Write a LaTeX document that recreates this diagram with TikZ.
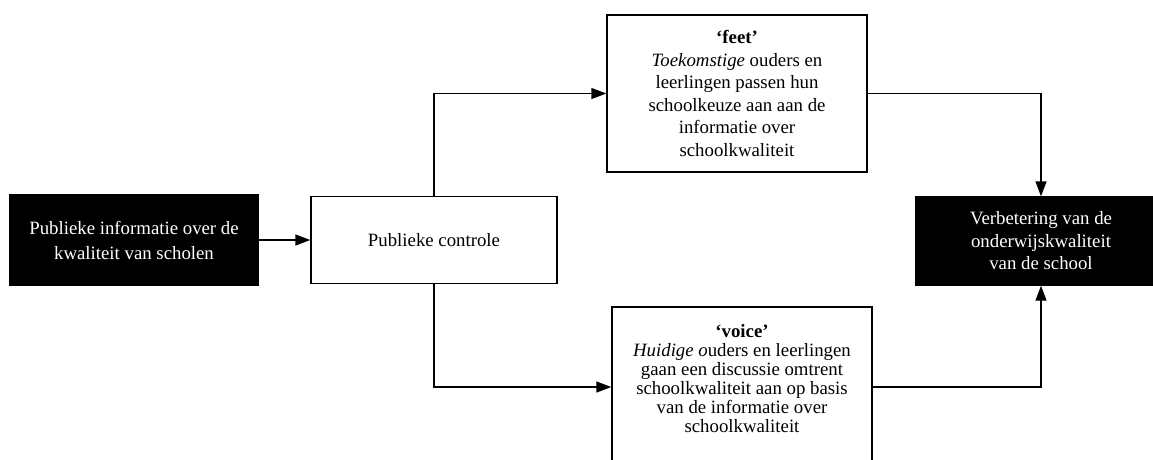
\documentclass[tikz,border=0pt]{standalone}
\usepackage{fontspec}
\setmainfont{Liberation Serif}
\usetikzlibrary{arrows.meta}
\begin{document}
\begin{tikzpicture}[x=1pt,y=-1pt,
  box/.style={draw=black, line width=1.4pt, fill=white, align=center, inner sep=0pt,
    font=\fontsize{18.8}{22.5}\selectfont},
  darkbox/.style={box, fill=black, text=white},
  flow/.style={line width=1.4pt, -{Triangle[length=15pt,width=11pt]}}]
\useasboundingbox (0,0) rectangle (1153,459);
\clip (0,0) rectangle (1153,459);
\fill[white] (0,0) rectangle (1153,459);

% source and control
\node[darkbox, minimum width=248pt, minimum height=90pt,
  font=\fontsize{18.8}{25}\selectfont] (info) at (134,240)
  {Publieke informatie over de\\kwaliteit van scholen};
\node[box, minimum width=246pt, minimum height=87pt] (ctrl) at (434,240)
  {Publieke controle};

% the two mechanisms
\node[box, minimum width=260pt, minimum height=157pt] (feet) at (737,93.5)
  {\textbf{‘feet’}\\\textit{Toekomstige} ouders en\\leerlingen passen hun\\schoolkeuze aan aan de\\informatie over\\schoolkwaliteit};
\node[box, minimum width=260pt, minimum height=160pt,
  label={[align=center, font=\fontsize{18.8}{19}\selectfont, yshift=8pt]center:
    \textbf{‘voice’}\\\textit{Huidige o}uders en leerlingen\\gaan een discussie omtrent\\schoolkwaliteit aan op basis\\van de informatie over\\schoolkwaliteit}]
  (voice) at (742,387) {};

% outcome
\node[darkbox, minimum width=250pt, minimum height=88pt] (verb) at (1041,241)
  {Verbetering van de\\onderwijskwaliteit\\van de school};

% connectors
\draw[flow] (info) -- (ctrl);
\draw[flow] (ctrl.north) |- (feet.west);
\draw[flow] (ctrl.south) |- (voice.west);
\draw[flow] (feet.east) -| (verb.north);
\draw[flow] (voice.east) -| (verb.south);
\end{tikzpicture}
\end{document}
